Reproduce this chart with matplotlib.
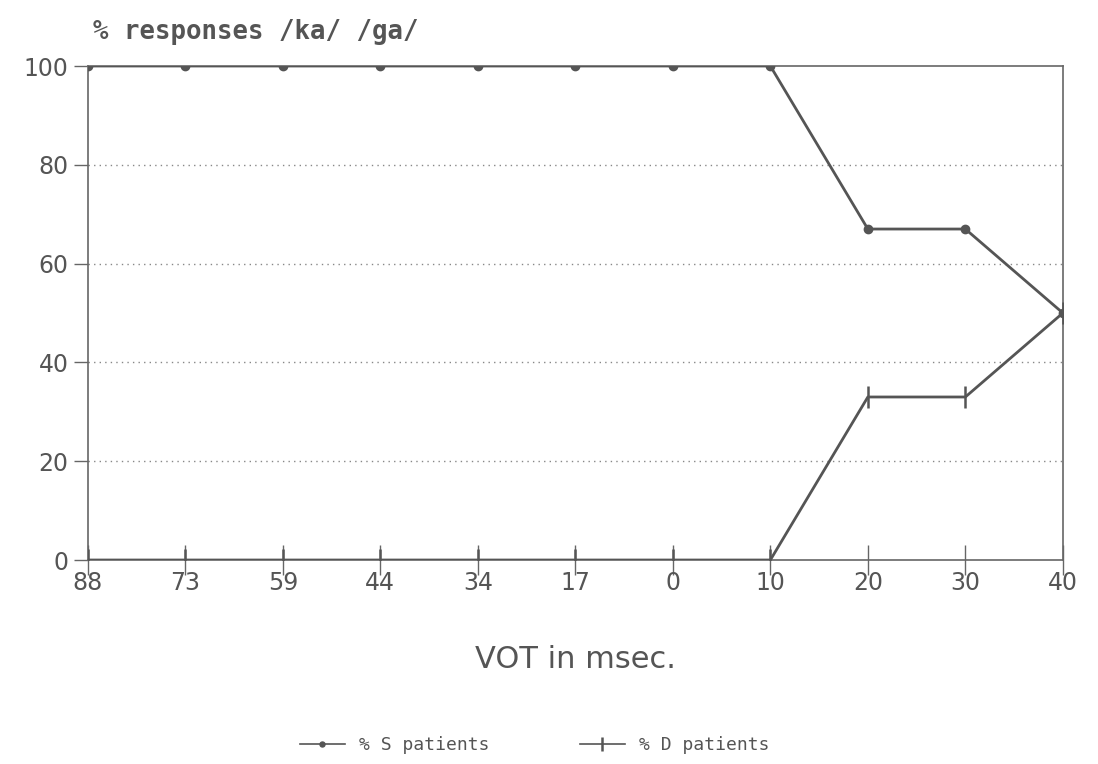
import matplotlib
matplotlib.use("Agg")
import matplotlib.pyplot as plt

categories = ["88", "73", "59", "44", "34", "17", "0", "10", "20", "30", "40"]
s_patients = [100, 100, 100, 100, 100, 100, 100, 100, 67, 67, 50]
d_patients = [0, 0, 0, 0, 0, 0, 0, 0, 33, 33, 50]
y_ticks = [0, 20, 40, 60, 80, 100]

line_col = "#555555"
text_col = "#555555"

fig = plt.figure(figsize=(10.98, 7.64), dpi=100)
ax = fig.add_axes([0.080, 0.267, 0.888, 0.6466])

x = list(range(len(categories)))
ax.plot(x, s_patients, color=line_col, lw=2, marker="o", ms=6, label="% S patients", zorder=3)
ax.plot(x, d_patients, color=line_col, lw=2, marker="|", ms=16, mew=1.8, label="% D patients", zorder=3)

ax.set_xlim(0, len(categories) - 1)
ax.set_ylim(0, 100)
ax.set_xticks(x)
ax.set_xticklabels(categories)
ax.set_yticks(y_ticks)
ax.set_yticklabels([str(v) for v in y_ticks])

for yv in y_ticks[1:-1]:
    ax.axhline(yv, color="#888888", lw=1, ls=(0, (1, 3)), zorder=1)

for sp in ax.spines.values():
    sp.set_color("#666666")
    sp.set_linewidth(1.2)

ax.tick_params(axis="x", direction="inout", length=22, width=1, colors="#666666",
               labelcolor=text_col, labelsize=17, pad=-3)
ax.tick_params(axis="y", direction="out", length=10, width=1, colors="#666666",
               labelcolor=text_col, labelsize=17, pad=4)

ax.set_xlabel("VOT in msec.", fontsize=22, color=text_col, labelpad=36)
fig.text(0.085, 0.958, "% responses /ka/ /ga/", fontsize=18.5, color=text_col,
         family="DejaVu Sans Mono", weight="bold", ha="left", va="center")

fig.legend(loc="center", bbox_to_anchor=(0.487, 0.025), ncol=2, frameon=False,
           prop={"family": "DejaVu Sans Mono", "size": 13}, labelcolor=text_col,
           handlelength=2.5, columnspacing=5, markerscale=0.6)
for ln in fig.legends[0].get_lines():
    ln.set_linewidth(1.2)

fig.savefig("out.png", dpi=100)
